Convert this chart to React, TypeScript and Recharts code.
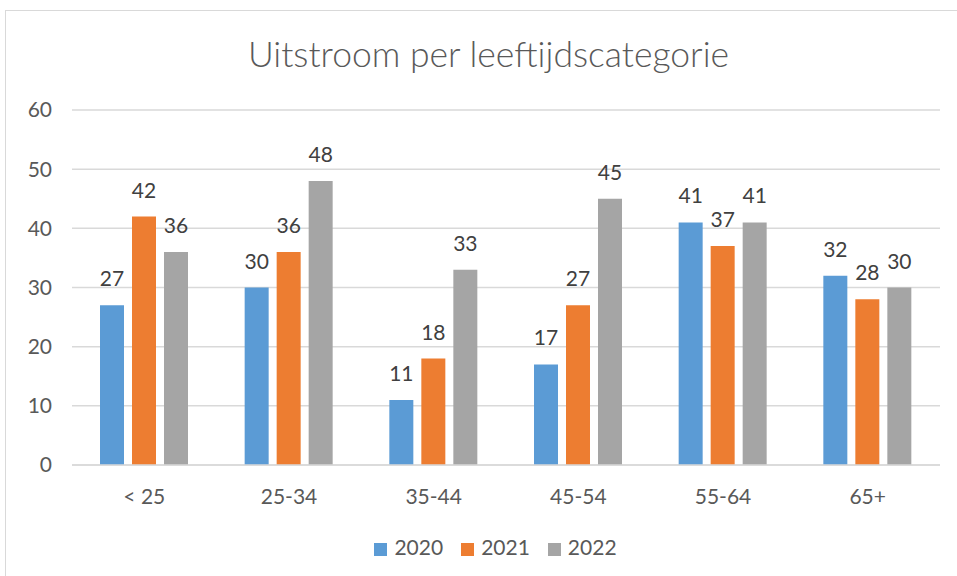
import { BarChart, Bar, XAxis, YAxis, CartesianGrid, Legend, LabelList } from "recharts";

const categories = ["< 25", "25-34", "35-44", "45-54", "55-64", "65+"];
const values2020 = [27, 30, 11, 17, 41, 32];
const values2021 = [42, 36, 18, 27, 37, 28];
const values2022 = [36, 48, 33, 45, 41, 30];
const yTicks = [0, 10, 20, 30, 40, 50, 60];

const data = categories.map((cat, i) => ({
  cat,
  "2020": values2020[i],
  "2021": values2021[i],
  "2022": values2022[i],
}));

const font = "Lato, 'Open Sans', sans-serif";
const textColor = "#595959";
const fs = 21;

export default function App() {
  return (
    <div style={{ position: "absolute", left: 0, top: 0, width: 957, height: 576, overflow: "hidden", background: "#fff", fontFamily: font }}>
      <div style={{ position: "absolute", left: 5, top: 10, width: 1000, height: 700, border: "1px solid #d9d9d9" }} />
      <div style={{ position: "absolute", left: 10, top: 32, width: 957, textAlign: "center", fontSize: 35.5, fontWeight: 300, color: textColor }}>
        Uitstroom per leeftijdscategorie
      </div>
      <div style={{ position: "absolute", left: 0, top: 0 }}>
        <BarChart width={957} height={576} data={data} margin={{ top: 110, right: 17, left: 0, bottom: 56 }} barGap={8} barSize={24}>
          <CartesianGrid vertical={false} stroke="#d9d9d9" strokeWidth={1.5} />
          <XAxis dataKey="cat" axisLine={{ stroke: "#d9d9d9", strokeWidth: 1.5 }} tickLine={false} tick={{ fill: textColor, fontSize: fs, fontFamily: font }} tickMargin={18} height={30} />
          <YAxis domain={[0, 60]} ticks={yTicks} axisLine={false} tickLine={false} tickSize={0} tickMargin={20} width={72} tick={{ fill: textColor, fontSize: fs, fontFamily: font }} />
          <Legend
            verticalAlign="bottom"
            iconType="square"
            iconSize={13}
            wrapperStyle={{ position: "absolute", top: 534, left: 0, width: 957, paddingLeft: 52, boxSizing: "border-box", fontSize: fs, fontFamily: font }}
            formatter={(v) => <span style={{ color: textColor, marginLeft: 3, marginRight: 8 }}>{v}</span>}
          />
          <Bar dataKey="2020" fill="#5b9bd5" isAnimationActive={false}>
            <LabelList dataKey="2020" position="top" offset={19} fill="#404040" fontSize={fs} fontFamily={font} />
          </Bar>
          <Bar dataKey="2021" fill="#ed7d31" isAnimationActive={false}>
            <LabelList dataKey="2021" position="top" offset={19} fill="#404040" fontSize={fs} fontFamily={font} />
          </Bar>
          <Bar dataKey="2022" fill="#a5a5a5" isAnimationActive={false}>
            <LabelList dataKey="2022" position="top" offset={19} fill="#404040" fontSize={fs} fontFamily={font} />
          </Bar>
        </BarChart>
      </div>
    </div>
  );
}
